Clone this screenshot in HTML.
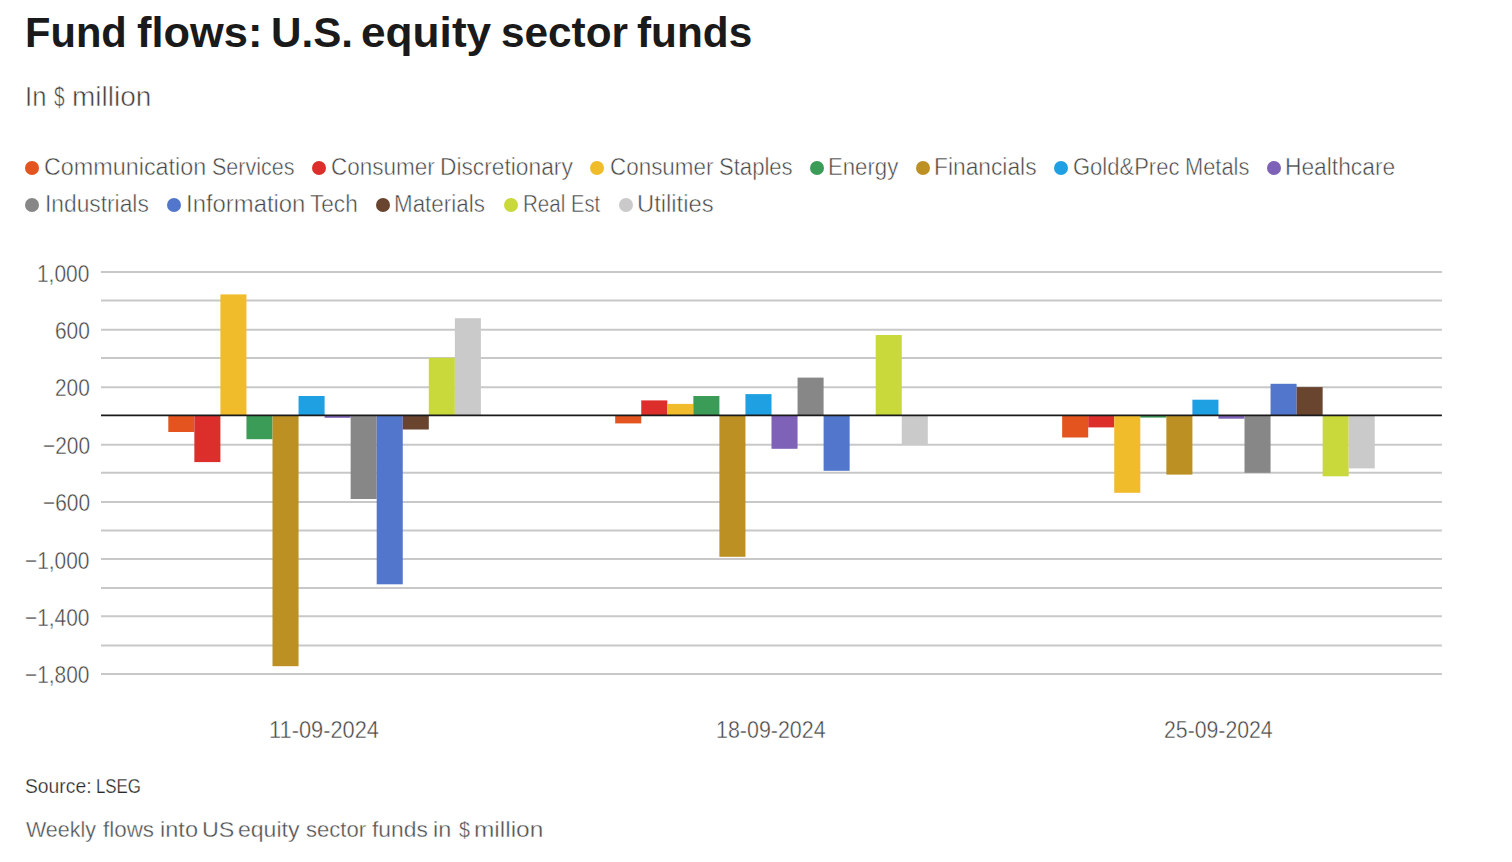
<!DOCTYPE html>
<html lang="en"><head><meta charset="utf-8"><title>Fund flows: U.S. equity sector funds</title>
<style>
html,body{margin:0;padding:0;background:#fff;}
body{width:1512px;height:862px;overflow:hidden;position:relative;}
.t{position:absolute;white-space:nowrap;font-family:"Liberation Sans",Arial,sans-serif;line-height:1;transform-origin:0 0;margin:0;}
.d{position:absolute;width:14px;height:14px;border-radius:50%;}
svg{position:absolute;left:0;top:0;}
</style></head><body>
<svg width="1512" height="862" viewBox="0 0 1512 862">
<line x1="101.0" x2="1441.9" y1="272.04" y2="272.04" stroke="#c8c8c8" stroke-width="2"/>
<line x1="101.0" x2="1441.9" y1="300.44" y2="300.44" stroke="#c8c8c8" stroke-width="2"/>
<line x1="101.0" x2="1441.9" y1="329.86" y2="329.86" stroke="#c8c8c8" stroke-width="2"/>
<line x1="101.0" x2="1441.9" y1="357.90" y2="357.90" stroke="#c8c8c8" stroke-width="2"/>
<line x1="101.0" x2="1441.9" y1="387.16" y2="387.16" stroke="#c8c8c8" stroke-width="2"/>
<line x1="101.0" x2="1441.9" y1="444.83" y2="444.83" stroke="#c8c8c8" stroke-width="2"/>
<line x1="101.0" x2="1441.9" y1="472.86" y2="472.86" stroke="#c8c8c8" stroke-width="2"/>
<line x1="101.0" x2="1441.9" y1="502.00" y2="502.00" stroke="#c8c8c8" stroke-width="2"/>
<line x1="101.0" x2="1441.9" y1="530.62" y2="530.62" stroke="#c8c8c8" stroke-width="2"/>
<line x1="101.0" x2="1441.9" y1="558.90" y2="558.90" stroke="#c8c8c8" stroke-width="2"/>
<line x1="101.0" x2="1441.9" y1="587.90" y2="587.90" stroke="#c8c8c8" stroke-width="2"/>
<line x1="101.0" x2="1441.9" y1="616.30" y2="616.30" stroke="#c8c8c8" stroke-width="2"/>
<line x1="101.0" x2="1441.9" y1="645.50" y2="645.50" stroke="#c8c8c8" stroke-width="2"/>
<line x1="101.0" x2="1441.9" y1="674.00" y2="674.00" stroke="#c8c8c8" stroke-width="2"/>
<rect x="168.30" y="415.45" width="26.05" height="16.55" fill="#e3541e"/>
<rect x="194.35" y="415.45" width="26.05" height="46.65" fill="#dc2f2c"/>
<rect x="220.40" y="294.40" width="26.05" height="121.05" fill="#f0bc2b"/>
<rect x="246.45" y="415.45" width="26.05" height="23.75" fill="#3a9c57"/>
<rect x="272.50" y="415.45" width="26.05" height="250.75" fill="#bc9022"/>
<rect x="298.55" y="396.00" width="26.05" height="19.45" fill="#1fa0e3"/>
<rect x="324.60" y="415.45" width="26.05" height="2.35" fill="#7e62b8"/>
<rect x="350.65" y="415.45" width="26.05" height="83.55" fill="#878787"/>
<rect x="376.70" y="415.45" width="26.05" height="168.85" fill="#5276cb"/>
<rect x="402.75" y="415.45" width="26.05" height="14.05" fill="#694530"/>
<rect x="428.80" y="357.80" width="26.05" height="57.65" fill="#c9d93c"/>
<rect x="454.85" y="318.20" width="26.05" height="97.25" fill="#cacaca"/>
<rect x="615.20" y="415.45" width="26.05" height="7.95" fill="#e3541e"/>
<rect x="641.25" y="400.40" width="26.05" height="15.05" fill="#dc2f2c"/>
<rect x="667.30" y="403.90" width="26.05" height="11.55" fill="#f0bc2b"/>
<rect x="693.35" y="396.00" width="26.05" height="19.45" fill="#3a9c57"/>
<rect x="719.40" y="415.45" width="26.05" height="141.35" fill="#bc9022"/>
<rect x="745.45" y="394.10" width="26.05" height="21.35" fill="#1fa0e3"/>
<rect x="771.50" y="415.45" width="26.05" height="33.35" fill="#7e62b8"/>
<rect x="797.55" y="377.60" width="26.05" height="37.85" fill="#878787"/>
<rect x="823.60" y="415.45" width="26.05" height="55.35" fill="#5276cb"/>
<rect x="875.70" y="335.00" width="26.05" height="80.45" fill="#c9d93c"/>
<rect x="901.75" y="415.45" width="26.05" height="29.25" fill="#cacaca"/>
<rect x="1062.15" y="415.45" width="26.05" height="22.05" fill="#e3541e"/>
<rect x="1088.20" y="415.45" width="26.05" height="11.95" fill="#dc2f2c"/>
<rect x="1114.25" y="415.45" width="26.05" height="77.35" fill="#f0bc2b"/>
<rect x="1140.30" y="415.45" width="26.05" height="2.15" fill="#3a9c57"/>
<rect x="1166.35" y="415.45" width="26.05" height="59.15" fill="#bc9022"/>
<rect x="1192.40" y="399.70" width="26.05" height="15.75" fill="#1fa0e3"/>
<rect x="1218.45" y="415.45" width="26.05" height="3.25" fill="#7e62b8"/>
<rect x="1244.50" y="415.45" width="26.05" height="57.35" fill="#878787"/>
<rect x="1270.55" y="383.80" width="26.05" height="31.65" fill="#5276cb"/>
<rect x="1296.60" y="387.10" width="26.05" height="28.35" fill="#694530"/>
<rect x="1322.65" y="415.45" width="26.05" height="60.85" fill="#c9d93c"/>
<rect x="1348.70" y="415.45" width="26.05" height="52.95" fill="#cacaca"/>
<line x1="101.0" x2="1441.9" y1="415.45" y2="415.45" stroke="#1a1a1a" stroke-width="1.7"/>
</svg>
<div class="d" style="left:25.00px;top:160.60px;background:#e3541e"></div>
<div class="d" style="left:312.20px;top:160.60px;background:#dc2f2c"></div>
<div class="d" style="left:590.00px;top:160.60px;background:#f0bc2b"></div>
<div class="d" style="left:809.70px;top:160.60px;background:#3a9c57"></div>
<div class="d" style="left:915.70px;top:160.60px;background:#bc9022"></div>
<div class="d" style="left:1054.00px;top:160.60px;background:#1fa0e3"></div>
<div class="d" style="left:1266.60px;top:160.60px;background:#7e62b8"></div>
<div class="d" style="left:25.00px;top:197.80px;background:#878787"></div>
<div class="d" style="left:166.70px;top:197.80px;background:#5276cb"></div>
<div class="d" style="left:376.00px;top:197.80px;background:#694530"></div>
<div class="d" style="left:503.70px;top:197.80px;background:#c9d93c"></div>
<div class="d" style="left:618.50px;top:197.80px;background:#cacaca"></div>
<div class="t" style="left:25.41px;top:11.10px;font-size:43.26px;font-weight:700;color:#1a1a1a;transform:scaleX(0.9630);">Fund</div>
<div class="t" style="left:136.80px;top:11.10px;font-size:43.26px;font-weight:700;color:#1a1a1a;transform:scaleX(1.0033);">flows:</div>
<div class="t" style="left:270.58px;top:11.10px;font-size:43.26px;font-weight:700;color:#1a1a1a;transform:scaleX(0.9744);">U.S.</div>
<div class="t" style="left:361.36px;top:11.10px;font-size:43.26px;font-weight:700;color:#1a1a1a;transform:scaleX(1.0224);">equity</div>
<div class="t" style="left:500.74px;top:11.10px;font-size:43.26px;font-weight:700;color:#1a1a1a;transform:scaleX(0.9787);">sector</div>
<div class="t" style="left:637.02px;top:11.10px;font-size:43.26px;font-weight:700;color:#1a1a1a;transform:scaleX(0.9783);">funds</div>
<div class="t" style="left:25.31px;top:82.70px;font-size:27.1px;font-weight:400;color:#404040;-webkit-text-stroke:0.55px #fff;transform:scaleX(0.9474);">In</div>
<div class="t" style="left:53.80px;top:82.70px;font-size:27.1px;font-weight:400;color:#404040;-webkit-text-stroke:0.55px #fff;transform:scaleX(0.7000);">$</div>
<div class="t" style="left:71.63px;top:82.70px;font-size:27.1px;font-weight:400;color:#404040;-webkit-text-stroke:0.55px #fff;transform:scaleX(1.0342);">million</div>
<div class="t" style="left:44.20px;top:155.70px;font-size:23.33px;font-weight:400;color:#444444;-webkit-text-stroke:0.5px #fff;transform:scaleX(1.0012);">Communication</div>
<div class="t" style="left:211.58px;top:155.70px;font-size:23.33px;font-weight:400;color:#444444;-webkit-text-stroke:0.5px #fff;transform:scaleX(0.9227);">Services</div>
<div class="t" style="left:331.33px;top:155.70px;font-size:23.33px;font-weight:400;color:#444444;-webkit-text-stroke:0.5px #fff;transform:scaleX(0.9651);">Consumer</div>
<div class="t" style="left:439.55px;top:155.70px;font-size:23.33px;font-weight:400;color:#444444;-webkit-text-stroke:0.5px #fff;transform:scaleX(0.9754);">Discretionary</div>
<div class="t" style="left:609.84px;top:155.70px;font-size:23.33px;font-weight:400;color:#444444;-webkit-text-stroke:0.5px #fff;transform:scaleX(0.9613);">Consumer</div>
<div class="t" style="left:718.55px;top:155.70px;font-size:23.33px;font-weight:400;color:#444444;-webkit-text-stroke:0.5px #fff;transform:scaleX(0.9461);">Staples</div>
<div class="t" style="left:827.70px;top:155.70px;font-size:23.33px;font-weight:400;color:#444444;-webkit-text-stroke:0.5px #fff;transform:scaleX(0.9500);">Energy</div>
<div class="t" style="left:934.05px;top:155.70px;font-size:23.33px;font-weight:400;color:#444444;-webkit-text-stroke:0.5px #fff;transform:scaleX(0.9765);">Financials</div>
<div class="t" style="left:1073.46px;top:155.70px;font-size:23.33px;font-weight:400;color:#444444;-webkit-text-stroke:0.5px #fff;transform:scaleX(0.9432);">Gold&amp;Prec</div>
<div class="t" style="left:1184.73px;top:155.70px;font-size:23.33px;font-weight:400;color:#444444;-webkit-text-stroke:0.5px #fff;transform:scaleX(0.9364);">Metals</div>
<div class="t" style="left:1285.05px;top:155.70px;font-size:23.33px;font-weight:400;color:#444444;-webkit-text-stroke:0.5px #fff;transform:scaleX(0.9764);">Healthcare</div>
<div class="t" style="left:44.55px;top:192.80px;font-size:23.33px;font-weight:400;color:#444444;-webkit-text-stroke:0.5px #fff;transform:scaleX(0.9760);">Industrials</div>
<div class="t" style="left:186.15px;top:192.80px;font-size:23.33px;font-weight:400;color:#444444;-webkit-text-stroke:0.5px #fff;transform:scaleX(1.0230);">Information</div>
<div class="t" style="left:310.10px;top:192.80px;font-size:23.33px;font-weight:400;color:#444444;-webkit-text-stroke:0.5px #fff;transform:scaleX(0.9688);">Tech</div>
<div class="t" style="left:393.98px;top:192.80px;font-size:23.33px;font-weight:400;color:#444444;-webkit-text-stroke:0.5px #fff;transform:scaleX(0.9598);">Materials</div>
<div class="t" style="left:522.54px;top:192.80px;font-size:23.33px;font-weight:400;color:#444444;-webkit-text-stroke:0.5px #fff;transform:scaleX(0.8800);">Real</div>
<div class="t" style="left:570.77px;top:192.80px;font-size:23.33px;font-weight:400;color:#444444;-webkit-text-stroke:0.5px #fff;transform:scaleX(0.8625);">Est</div>
<div class="t" style="left:637.36px;top:192.80px;font-size:23.33px;font-weight:400;color:#444444;-webkit-text-stroke:0.5px #fff;transform:scaleX(1.0181);">Utilities</div>
<div class="t" style="left:37.18px;top:262.65px;font-size:23.48px;font-weight:400;color:#444444;-webkit-text-stroke:0.4px #fff;transform:scaleX(0.8900);">1,000</div>
<div class="t" style="left:54.98px;top:320.03px;font-size:23.48px;font-weight:400;color:#444444;-webkit-text-stroke:0.4px #fff;transform:scaleX(0.8900);">600</div>
<div class="t" style="left:54.98px;top:377.41px;font-size:23.48px;font-weight:400;color:#444444;-webkit-text-stroke:0.4px #fff;transform:scaleX(0.8900);">200</div>
<div class="t" style="left:42.52px;top:434.79px;font-size:23.48px;font-weight:400;color:#444444;-webkit-text-stroke:0.4px #fff;transform:scaleX(0.8900);">−200</div>
<div class="t" style="left:42.52px;top:492.17px;font-size:23.48px;font-weight:400;color:#444444;-webkit-text-stroke:0.4px #fff;transform:scaleX(0.8900);">−600</div>
<div class="t" style="left:24.72px;top:549.55px;font-size:23.48px;font-weight:400;color:#444444;-webkit-text-stroke:0.4px #fff;transform:scaleX(0.8900);">−1,000</div>
<div class="t" style="left:24.72px;top:606.93px;font-size:23.48px;font-weight:400;color:#444444;-webkit-text-stroke:0.4px #fff;transform:scaleX(0.8900);">−1,400</div>
<div class="t" style="left:24.72px;top:664.31px;font-size:23.48px;font-weight:400;color:#444444;-webkit-text-stroke:0.4px #fff;transform:scaleX(0.8900);">−1,800</div>
<div class="t" style="left:269.02px;top:718.80px;font-size:23.19px;font-weight:400;color:#444444;-webkit-text-stroke:0.4px #fff;transform:scaleX(0.9404);">11-09-2024</div>
<div class="t" style="left:716.35px;top:718.80px;font-size:23.19px;font-weight:400;color:#444444;-webkit-text-stroke:0.4px #fff;transform:scaleX(0.9241);">18-09-2024</div>
<div class="t" style="left:1164.08px;top:718.80px;font-size:23.19px;font-weight:400;color:#444444;-webkit-text-stroke:0.4px #fff;transform:scaleX(0.9162);">25-09-2024</div>
<div class="t" style="left:25.01px;top:776.50px;font-size:19.57px;font-weight:400;color:#2a2a2a;-webkit-text-stroke:0.25px #fff;transform:scaleX(0.9862);">Source:</div>
<div class="t" style="left:96.08px;top:776.50px;font-size:19.57px;font-weight:400;color:#2a2a2a;-webkit-text-stroke:0.25px #fff;transform:scaleX(0.8612);">LSEG</div>
<div class="t" style="left:26.25px;top:818.80px;font-size:22.17px;font-weight:400;color:#4f4f4f;-webkit-text-stroke:0.35px #fff;transform:scaleX(0.9674);">Weekly</div>
<div class="t" style="left:103.00px;top:818.80px;font-size:22.17px;font-weight:400;color:#4f4f4f;-webkit-text-stroke:0.35px #fff;transform:scaleX(1.0120);">flows</div>
<div class="t" style="left:160.04px;top:818.80px;font-size:22.17px;font-weight:400;color:#4f4f4f;-webkit-text-stroke:0.35px #fff;transform:scaleX(1.0647);">into</div>
<div class="t" style="left:201.79px;top:818.80px;font-size:22.17px;font-weight:400;color:#4f4f4f;-webkit-text-stroke:0.35px #fff;transform:scaleX(1.0536);">US</div>
<div class="t" style="left:238.46px;top:818.80px;font-size:22.17px;font-weight:400;color:#4f4f4f;-webkit-text-stroke:0.35px #fff;transform:scaleX(1.0397);">equity</div>
<div class="t" style="left:305.60px;top:818.80px;font-size:22.17px;font-weight:400;color:#4f4f4f;-webkit-text-stroke:0.35px #fff;transform:scaleX(0.9966);">sector</div>
<div class="t" style="left:372.20px;top:818.80px;font-size:22.17px;font-weight:400;color:#4f4f4f;-webkit-text-stroke:0.35px #fff;transform:scaleX(1.0302);">funds</div>
<div class="t" style="left:433.14px;top:818.80px;font-size:22.17px;font-weight:400;color:#4f4f4f;-webkit-text-stroke:0.35px #fff;transform:scaleX(1.0600);">in</div>
<div class="t" style="left:458.60px;top:818.80px;font-size:22.17px;font-weight:400;color:#4f4f4f;-webkit-text-stroke:0.35px #fff;transform:scaleX(0.8833);">$</div>
<div class="t" style="left:474.40px;top:818.80px;font-size:22.17px;font-weight:400;color:#4f4f4f;-webkit-text-stroke:0.35px #fff;transform:scaleX(1.1033);">million</div>
</body></html>
